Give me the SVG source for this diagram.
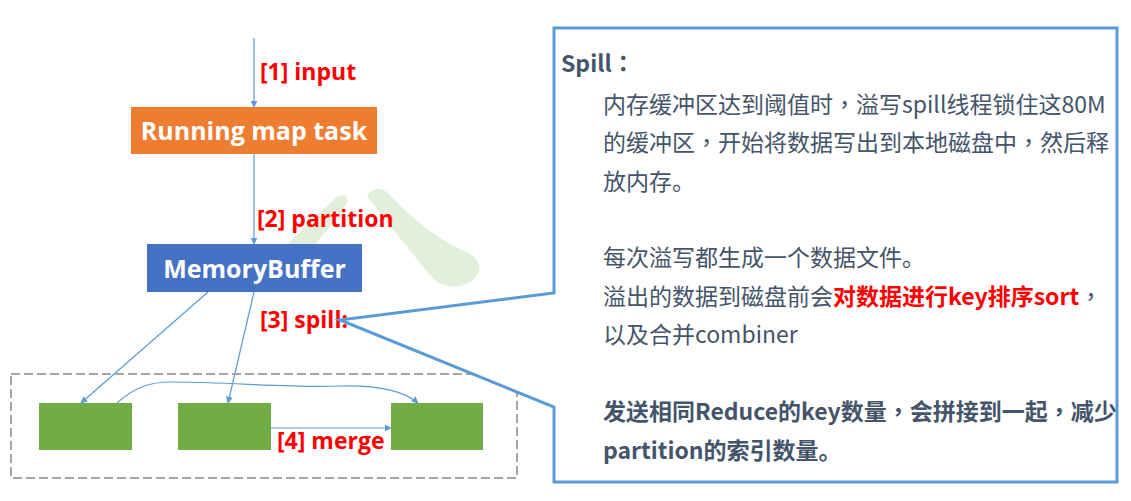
<svg xmlns="http://www.w3.org/2000/svg" width="1131" height="501" viewBox="0 0 1131 501">
<style>
.lbl{font-family:"Open Sans","Noto Sans",sans-serif;font-weight:bold;font-size:23px;fill:#FF0000}
.box{font-family:"Open Sans","Noto Sans",sans-serif;font-weight:bold;font-size:25px;fill:#FFFFFF}
.conn{stroke:#5B9BD5;stroke-width:1.2;fill:none}
.body{font-family:"Noto Sans CJK SC","Noto Sans",sans-serif;font-size:23px;fill:#44546A}
.bold{font-weight:bold}
.red{fill:#FF0000;font-weight:bold}
.p{font-family:"Noto Sans CJK TC","Noto Sans CJK SC",sans-serif}
.file{fill:#70AD47}
</style>
<defs>
<marker id="ah" viewBox="0 0 10 10" refX="9" refY="5" markerWidth="7" markerHeight="7" markerUnits="userSpaceOnUse" orient="auto">
<path d="M0,0 L10,5 L0,10 Z" fill="#5B9BD5"/>
</marker>
</defs>
<rect width="1131" height="501" fill="#FFFFFF"/>
<g id="watermark" fill="#E2EFDA">
<path d="M288 244 C 305 226, 322 210, 336 198 C 341 193, 350 195, 347 203 C 336 220, 322 236, 312 248 Z"/>
<path d="M367 196 C 371 188, 382 186, 390 195 C 410 216, 432 236, 462 250 C 482 258, 484 270, 472 281 C 461 290, 441 288, 431 276 C 411 252, 390 226, 367 196 Z"/>
</g>
<g id="connectors">
<line class="conn" x1="254" y1="38" x2="254" y2="107" marker-end="url(#ah)"/>
<line class="conn" x1="254" y1="154" x2="254" y2="244" marker-end="url(#ah)"/>
<line class="conn" x1="208" y1="292" x2="81" y2="403" marker-end="url(#ah)"/>
<line class="conn" x1="254" y1="292" x2="228" y2="403" marker-end="url(#ah)"/>
<line class="conn" x1="271" y1="428" x2="391" y2="428" marker-end="url(#ah)"/>
<path class="conn" d="M117 403 C 135 387, 150 382, 172 382 C 230 382, 290 388, 340 386 C 380 385, 405 392, 418 403" marker-end="url(#ah)"/>
</g>
<g id="labels">
<text class="lbl" x="260" y="80">[1] input</text>
<text class="lbl" x="257" y="227">[2] partition</text>
<text class="lbl" x="260" y="328">[3] spill:</text>
<text class="lbl" x="277" y="449">[4] merge</text>
</g>
<g id="map-task">
<rect x="131" y="107" width="246" height="47" fill="#ED7D31"/>
<text class="box" x="254" y="140" text-anchor="middle">Running map task</text>
</g>
<g id="memory-buffer">
<rect x="147" y="244" width="215" height="48" fill="#4472C4"/>
<text class="box" x="254.5" y="278" text-anchor="middle" font-size="26">MemoryBuffer</text>
</g>
<g id="spill-files">
<rect x="11" y="374" width="506" height="104" fill="none" stroke="#A5A5A5" stroke-width="2" stroke-dasharray="9,4"/>
<rect id="file1" class="file" x="39" y="403" width="93" height="47"/>
<rect id="file2" class="file" x="178" y="403" width="93" height="47"/>
<rect id="file3" class="file" x="391" y="403" width="92" height="47"/>
</g>
<g id="callout">
<path d="M554 28 H1117 V482 H554 V407 L340 320 L554 293 Z" fill="#FFFFFF" stroke="#5B9BD5" stroke-width="3" stroke-linejoin="miter"/>
<text class="body bold" x="561" y="72" font-size="26">Spill<tspan class="p">：</tspan></text>
<text class="body" x="603" y="113">内存缓冲区达到阈值时<tspan class="p">，</tspan>溢写spill线程锁住这80M</text>
<text class="body" x="603" y="151">的缓冲区<tspan class="p">，</tspan>开始将数据写出到本地磁盘中<tspan class="p">，</tspan>然后释</text>
<text class="body" x="603" y="190">放内存。</text>
<text class="body" x="603" y="266">每次溢写都生成一个数据文件。</text>
<text class="body" x="603" y="305">溢出的数据到磁盘前会<tspan class="red">对数据进行key排序sort</tspan><tspan class="p">，</tspan></text>
<text class="body" x="603" y="343">以及合并combiner</text>
<text class="body bold" x="603" y="420">发送相同Reduce的key数量<tspan class="p">，</tspan>会拼接到一起<tspan class="p">，</tspan>减少</text>
<text class="body bold" x="603" y="459">partition的索引数量。</text>
</g>
</svg>
